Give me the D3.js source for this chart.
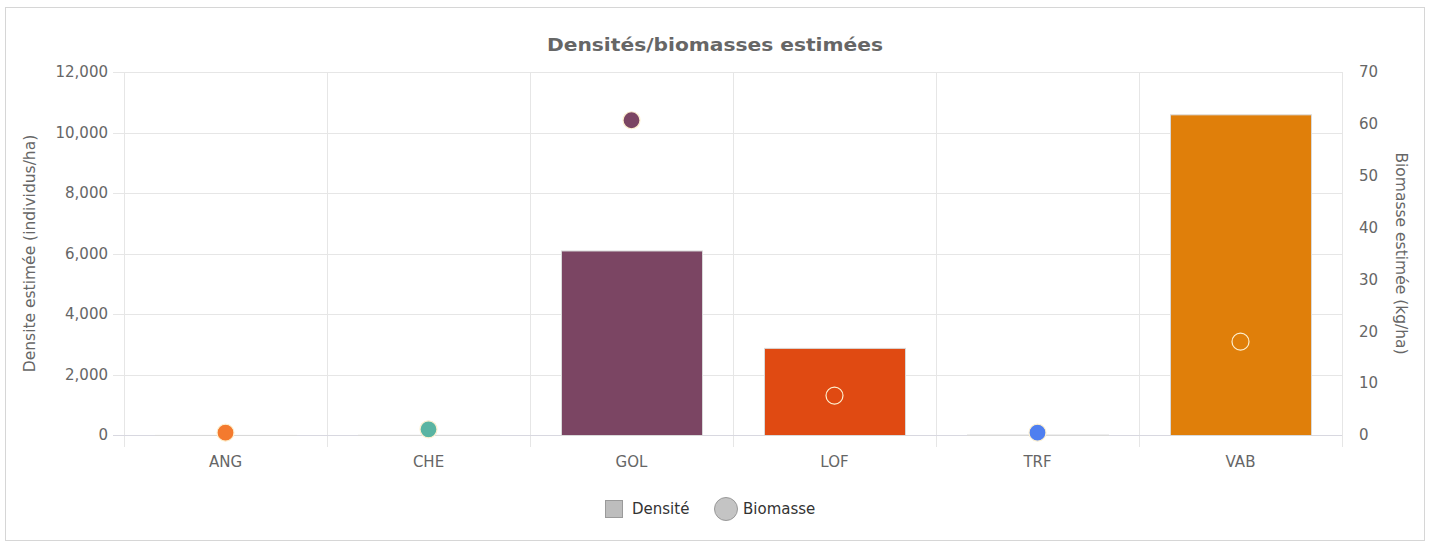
<!DOCTYPE html>
<html><head><meta charset="utf-8">
<script src="https://cdn.jsdelivr.net/npm/d3@7"></script>
<style>
html,body{margin:0;padding:0;background:#fff;}
svg text{font-family:"DejaVu Sans","Noto Sans",sans-serif;}
</style></head>
<body><svg id="c" width="1434" height="543"></svg>
<script>
const categories = ["ANG","CHE","GOL","LOF","TRF","VAB"];
const densite = [3, 6, 6100, 2880, 15, 10600];
const biomasse = [0.45, 1.1, 60.7, 7.6, 0.45, 18.0];
const colors = ["#f47a2e","#5ab4a2","#7b4563","#e04a12","#4f7ff0","#e07f0a"];
const leftTicks = [0,2000,4000,6000,8000,10000,12000];
const rightTicks = [0,10,20,30,40,50,60,70];

const svg = d3.select("#c");
const L = 124, R = 1342, T = 72, B = 435;

svg.append("rect").attr("x",5.5).attr("y",7.5).attr("width",1419).attr("height",533)
  .attr("fill","#fff").attr("stroke","#d6d6d6");

const x = d3.scaleBand().domain(categories).range([L,R]).paddingInner(0).paddingOuter(0);
const yL = d3.scaleLinear().domain([0,12000]).range([B,T]);
const yR = d3.scaleLinear().domain([0,70]).range([B,T]);

// horizontal grid
svg.append("g").selectAll("line").data(leftTicks).join("line")
  .attr("x1",113).attr("x2",R).attr("y1",d=>Math.round(yL(d))+0.5).attr("y2",d=>Math.round(yL(d))+0.5)
  .attr("stroke","#e6e6e6");
// vertical grid
const bounds = categories.map(c=>x(c)).concat([R]);
svg.append("g").selectAll("line").data(bounds).join("line")
  .attr("x1",d=>Math.round(d)+0.5).attr("x2",d=>Math.round(d)+0.5).attr("y1",T).attr("y2",447)
  .attr("stroke","#e6e6e6");
// zero line
svg.append("line").attr("x1",113).attr("x2",R).attr("y1",B+0.5).attr("y2",B+0.5).attr("stroke","#d8d8e0");

// left axis labels
svg.append("g").selectAll("text").data(leftTicks).join("text")
  .attr("x",108).attr("y",d=>yL(d)).attr("dy","0.35em").attr("text-anchor","end")
  .attr("fill","#666").attr("font-size",15).text(d=>d3.format(",")(d));
// right axis labels
svg.append("g").selectAll("text").data(rightTicks).join("text")
  .attr("x",1359).attr("y",d=>yR(d)).attr("dy","0.35em").attr("text-anchor","start")
  .attr("fill","#666").attr("font-size",15).text(d=>d);
// x labels
svg.append("g").selectAll("text").data(categories).join("text")
  .attr("x",d=>x(d)+x.bandwidth()/2).attr("y",467).attr("text-anchor","middle")
  .attr("fill","#666").attr("font-size",15).text(d=>d);

// axis titles
svg.append("text").attr("transform",`translate(35,${(T+B)/2}) rotate(-90)`).attr("text-anchor","middle")
  .attr("fill","#666").attr("font-size",15.5).text("Densite estimée (individus/ha)");
svg.append("text").attr("transform",`translate(1396,${(T+B)/2}) rotate(90)`).attr("text-anchor","middle")
  .attr("fill","#666").attr("font-size",15.5).text("Biomasse estimée (kg/ha)");

// title
svg.append("text").attr("x",715).attr("y",51).attr("text-anchor","middle")
  .attr("fill","#666").attr("font-size",18).attr("font-weight","bold")
  .attr("textLength",336).attr("lengthAdjust","spacingAndGlyphs")
  .text("Densités/biomasses estimées");

// bars
const bw = 141;
svg.append("g").selectAll("rect").data(categories).join("rect")
  .attr("x",(d)=>x(d)+(x.bandwidth()-bw)/2+0.5)
  .attr("y",(d,i)=>yL(densite[i])+0.5)
  .attr("width",bw)
  .attr("height",(d,i)=>Math.max(0,B-yL(densite[i])))
  .attr("fill",(d,i)=>colors[i]).attr("stroke","#d9d9d9").attr("stroke-width",1);

// points
svg.append("g").selectAll("circle").data(categories).join("circle")
  .attr("cx",d=>x(d)+x.bandwidth()/2).attr("cy",(d,i)=>yR(biomasse[i]))
  .attr("r",8.5).attr("fill",(d,i)=>colors[i]).attr("stroke","#fdf0d0").attr("stroke-width",1.2);

// legend
svg.append("rect").attr("x",605.5).attr("y",500.5).attr("width",17).attr("height",17)
  .attr("fill","#bdbdbd").attr("stroke","#9a9a9a");
svg.append("text").attr("x",632).attr("y",514).attr("fill","#333").attr("font-size",15).text("Densité");
svg.append("circle").attr("cx",726).attr("cy",509).attr("r",11.5).attr("fill","#c4c4c4").attr("stroke","#999");
svg.append("text").attr("x",743).attr("y",514).attr("fill","#333").attr("font-size",15).text("Biomasse");
</script></body></html>
